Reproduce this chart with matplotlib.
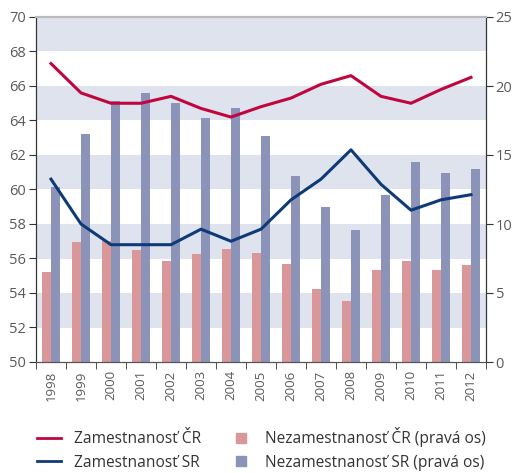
import numpy as np
import matplotlib.pyplot as plt
from matplotlib.lines import Line2D

plt.rcParams['font.family'] = ['Open Sans', 'DejaVu Sans']

# Data
years = [str(y) for y in range(1998, 2013)]
zam_cr = [67.3, 65.6, 65.0, 65.0, 65.4, 64.7, 64.2, 64.8, 65.3, 66.1, 66.6, 65.4, 65.0, 65.8, 66.5]
zam_sr = [60.6, 58.0, 56.8, 56.8, 56.8, 57.7, 57.0, 57.7, 59.4, 60.6, 62.3, 60.3, 58.8, 59.4, 59.7]
nezam_cr = [6.5, 8.7, 8.8, 8.1, 7.3, 7.8, 8.2, 7.9, 7.1, 5.3, 4.4, 6.7, 7.3, 6.7, 7.0]
nezam_sr = [12.7, 16.5, 18.9, 19.5, 18.8, 17.7, 18.4, 16.4, 13.5, 11.2, 9.6, 12.1, 14.5, 13.7, 14.0]

RED = '#c0063f'
BLUE = '#0f3a78'
PINK = '#da979a'
LAV = '#8c93b9'
BAND = '#dee3ee'
TXT = '#5a5a5a'

fig = plt.figure(figsize=(5.12, 4.73), dpi=100)
ax = fig.add_axes([36 / 512, 1 - 362 / 473, 450 / 512, 345 / 473])
ax2 = ax.twinx()

x = np.arange(len(years))
w = 0.3

# bands + bars on right axis
for lo in [2.5, 7.5, 12.5, 17.5, 22.5]:
    ax2.axhspan(lo, lo + 2.5, color=BAND, lw=0, zorder=0)
ax2.bar(x - w / 2, nezam_cr, w, color=PINK, zorder=2)
ax2.bar(x + w / 2, nezam_sr, w, color=LAV, zorder=2)
ax2.set_ylim(0, 25)
ax2.set_yticks([0, 5, 10, 15, 20, 25])

# lines on left axis, drawn on top
ax.set_zorder(ax2.get_zorder() + 1)
ax.patch.set_visible(False)
ax.plot(x, zam_cr, color=RED, lw=2.2)
ax.plot(x, zam_sr, color=BLUE, lw=2.2)
ax.set_ylim(50, 70)
ax.set_yticks(range(50, 71, 2))
ax.set_xlim(-0.5, len(years) - 0.5)

ax.set_xticks(x)
ax.set_xticklabels(years, rotation=90)
ax.set_xticks(np.arange(-0.5, len(years)), minor=True)
ax.tick_params(axis='x', which='major', length=0, pad=6, labelsize=9.5, labelcolor=TXT)
ax.tick_params(axis='x', which='minor', length=5, color='#333333')
ax.tick_params(axis='y', length=5, color='#333333', labelsize=10.5, labelcolor=TXT, pad=2)
ax2.tick_params(axis='y', length=5, color='#333333', labelsize=10.5, labelcolor=TXT, pad=2)

for a in (ax, ax2):
    a.spines['top'].set_color('#bbbbbb')
    a.spines['top'].set_linewidth(1.5)
    a.spines['left'].set_color('#333333')
    a.spines['right'].set_color('#333333')
    a.spines['bottom'].set_color('#555555')

handles = [
    Line2D([], [], color=RED, lw=2),
    Line2D([], [], color=BLUE, lw=2),
    Line2D([], [], color=PINK, marker='s', ls='', markersize=7),
    Line2D([], [], color=LAV, marker='s', ls='', markersize=7),
]
labels = ['Zamestnanosť ČR', 'Zamestnanosť SR',
          'Nezamestnanosť ČR (pravá os)', 'Nezamestnanosť SR (pravá os)']
fig.legend(handles, labels, ncol=2, loc='lower left', bbox_to_anchor=(0.045, -0.025),
           frameon=False, fontsize=11.2, labelcolor='#333333', handlelength=1.55,
           columnspacing=1.8, labelspacing=0.5, handletextpad=0.8)

fig.savefig('out.png', dpi=100)
